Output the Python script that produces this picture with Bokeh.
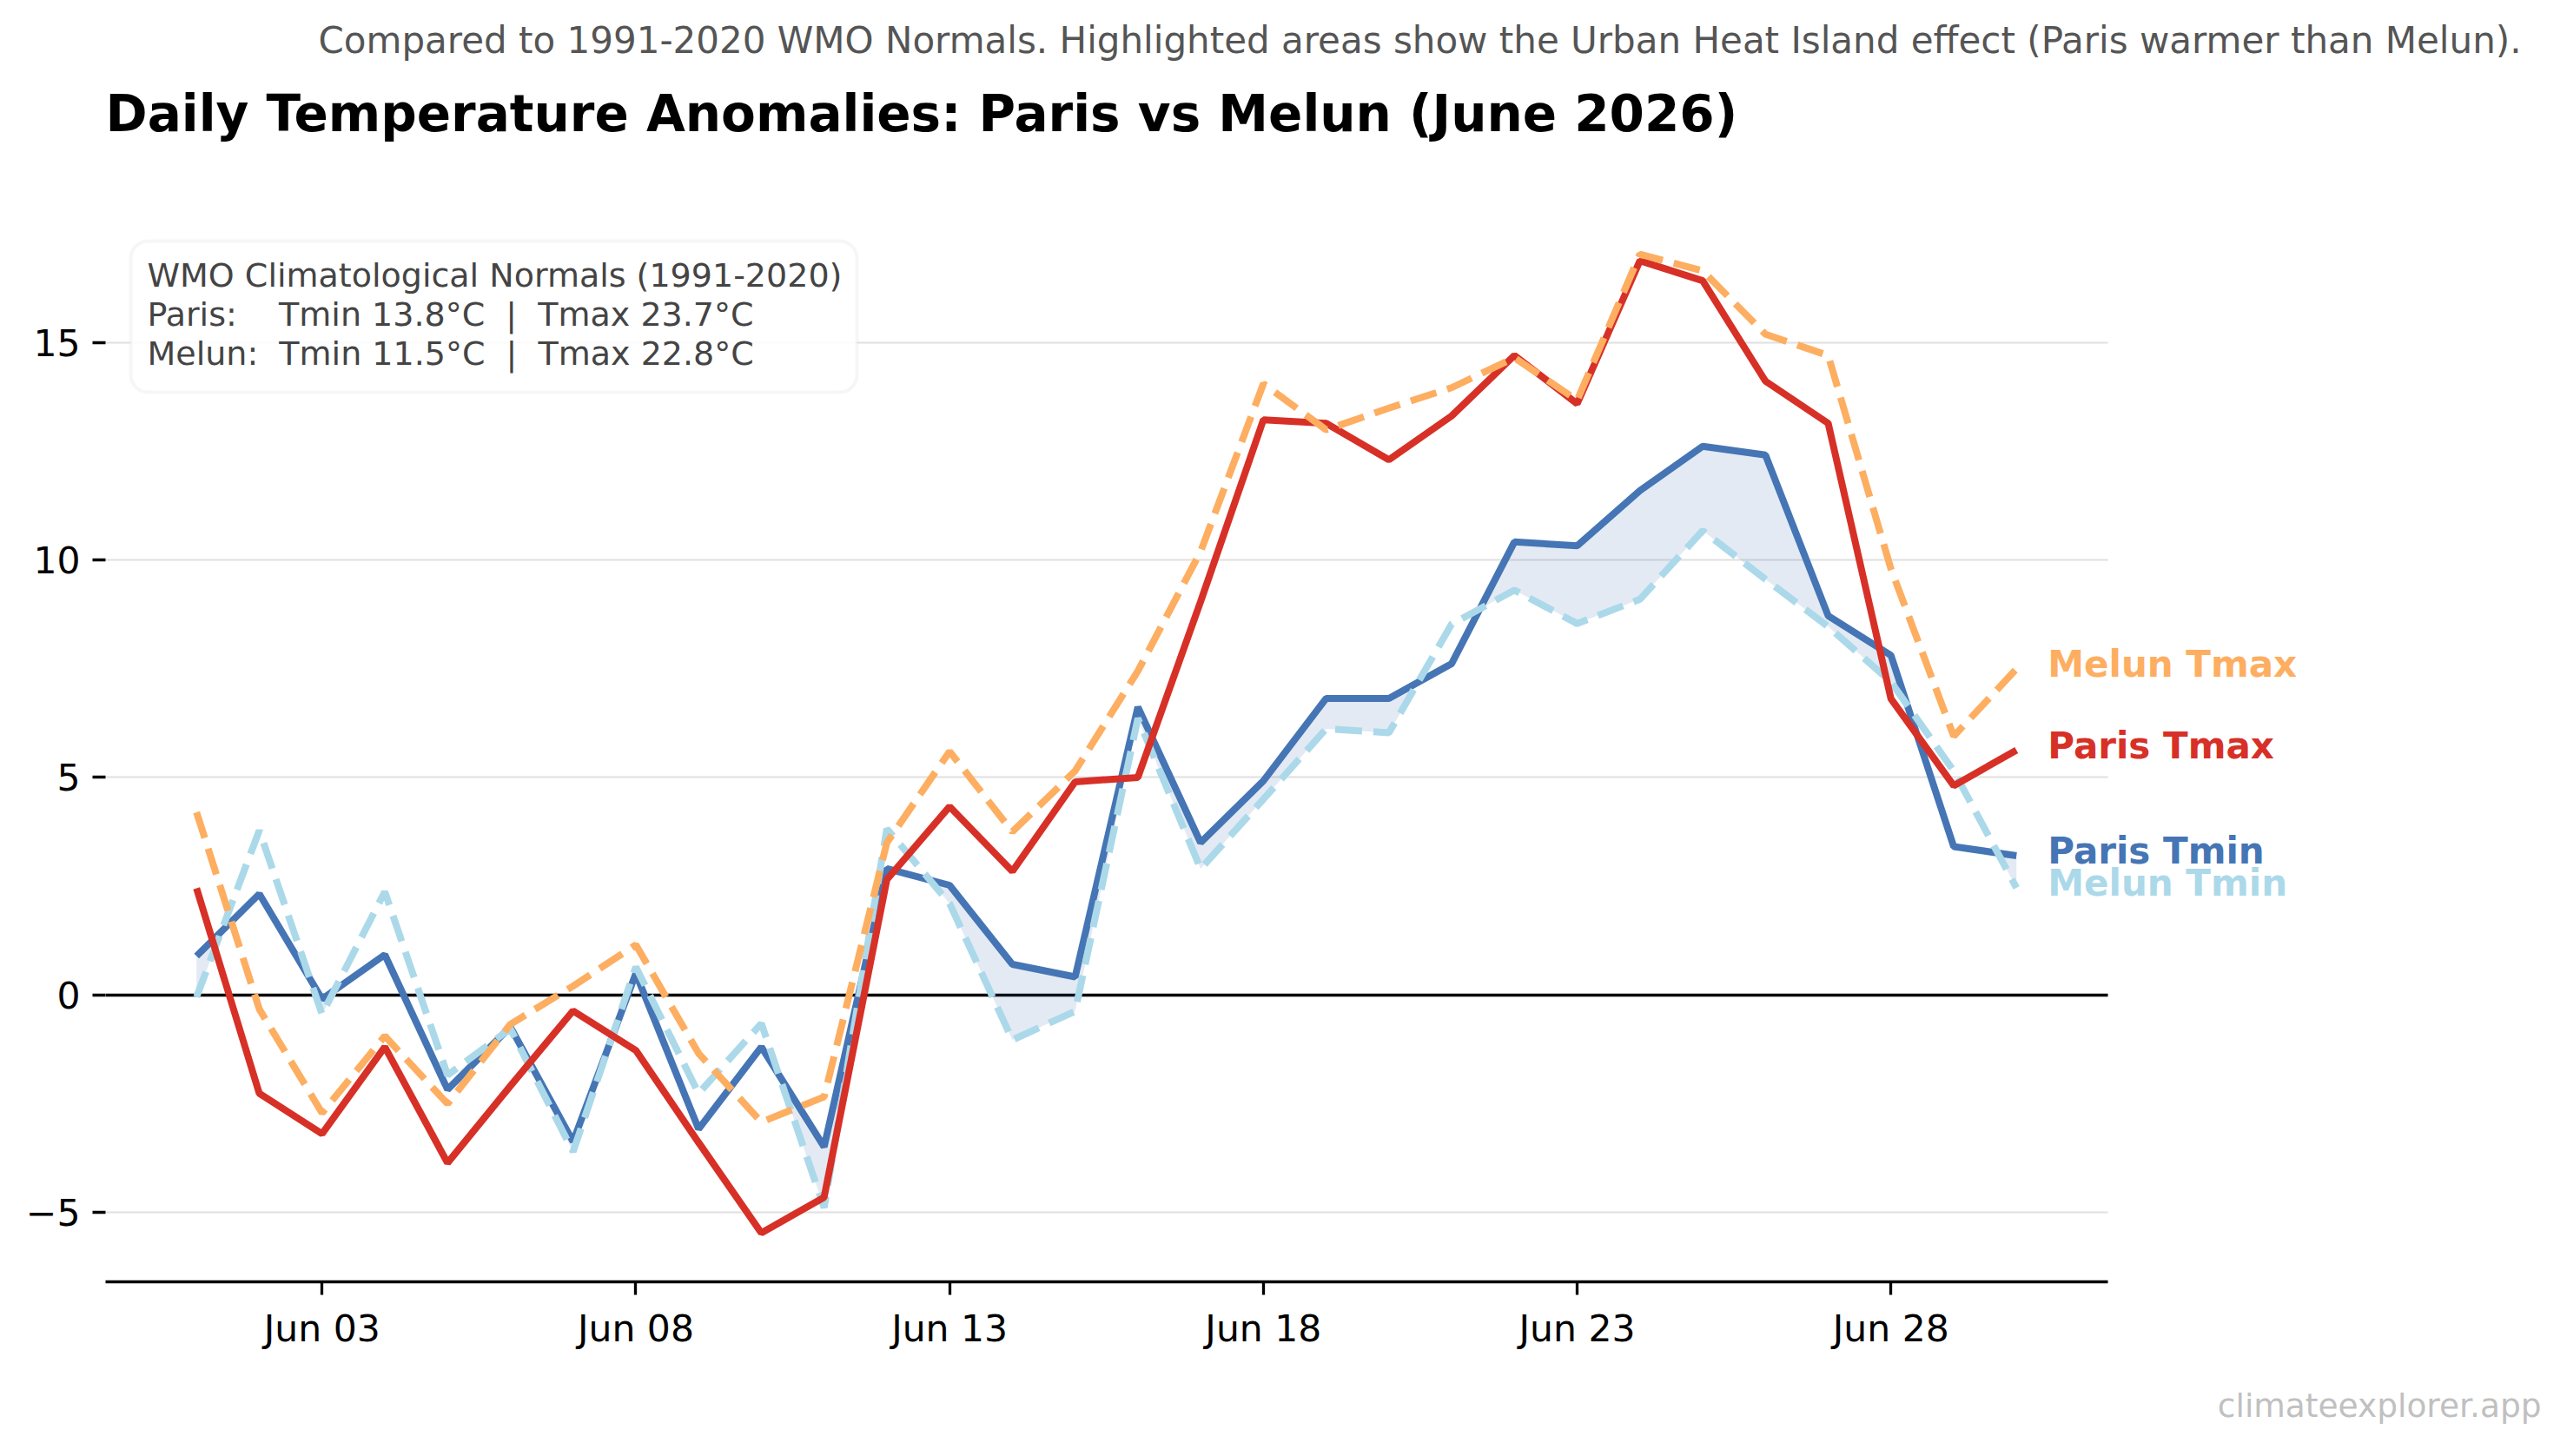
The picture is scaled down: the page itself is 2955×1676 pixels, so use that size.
import numpy as np
import pandas as pd
from bokeh.plotting import figure
from bokeh.models import (FixedTicker, DatetimeTickFormatter, Label, BoxAnnotation,
                          Grid, Range1d, Title)
from bokeh.embed import file_html
from bokeh.resources import INLINE

# Daily anomalies (°C) against 1991-2020 normals, June 2026
dates = pd.date_range("2026-06-01", "2026-06-30", freq="D")

paris_tmax = [2.45, -2.27, -3.2, -1.2, -3.87, -2.1, -0.37, -1.28, -3.4, -5.48,
              -4.66, 2.65, 4.33, 2.84, 4.9, 5.0, 9.05, 13.23, 13.15, 12.31,
              13.32, 14.71, 13.6, 16.89, 16.43, 14.12, 13.15, 6.81, 4.81, 5.63]
melun_tmax = [4.2, -0.33, -2.72, -0.95, -2.51, -0.68, 0.2, 1.15, -1.35, -2.93,
              -2.35, 3.5, 5.6, 3.75, 5.15, 7.45, 10.2, 14.06, 13.0, 13.5,
              13.97, 14.66, 13.68, 17.04, 16.66, 15.2, 14.71, 9.8, 5.95, 7.5]
paris_tmin = [0.89, 2.32, -0.1, 0.92, -2.18, -0.74, -3.38, 0.49, -3.09, -1.2,
              -3.5, 2.9, 2.52, 0.7, 0.41, 6.62, 3.5, 4.92, 6.82, 6.82,
              7.62, 10.42, 10.33, 11.6, 12.62, 12.42, 8.72, 7.81, 3.41, 3.2]
melun_tmin = [-0.05, 3.78, -0.45, 2.37, -1.85, -0.78, -3.61, 0.64, -2.27, -0.66,
              -4.9, 3.82, 2.1, -1.04, -0.38, 6.36, 2.9, 4.5, 6.12, 6.03,
              8.53, 9.31, 8.54, 9.1, 10.68, 9.56, 8.47, 7.2, 5.15, 2.46]

series_names = ["Paris Tmax", "Melun Tmax", "Paris Tmin", "Melun Tmin"]
tick_dates = ["2026-06-03", "2026-06-08", "2026-06-13", "2026-06-18",
              "2026-06-23", "2026-06-28"]
y_ticks = [-5, 0, 5, 10, 15]

normals_title = "WMO Climatological Normals (1991-2020)"
normals_paris = "Paris:\u00a0\u00a0\u00a0\u00a0Tmin 13.8°C\u00a0\u00a0|\u00a0\u00a0Tmax 23.7°C"
normals_melun = "Melun:\u00a0\u00a0Tmin 11.5°C\u00a0\u00a0|\u00a0\u00a0Tmax 22.8°C"

C_PTMAX = "#d73027"
C_MTMAX = "#fdae61"
C_PTMIN = "#4575b4"
C_MTMIN = "#abd9e9"
FONT = "DejaVu Sans"
TICK_FS = "42.5px"

W, H = 2955, 1676
# axes box (px): left, right, top, bottom
AX_L, AX_R, AX_T, AX_B = 121, 2425.5, 236, 1476

x_ms = np.array([d.value // 10**6 for d in dates], dtype=float)

# data limits with 5 % padding
all_vals = np.concatenate([paris_tmax, melun_tmax, paris_tmin, melun_tmin])
ypad = 0.05 * (all_vals.max() - all_vals.min())
xpad = 0.05 * (x_ms[-1] - x_ms[0])
x0, x1 = x_ms[0] - xpad, x_ms[-1] + xpad
y0, y1 = all_vals.min() - ypad, all_vals.max() + ypad

# the frame reaches the right and top edges so that side labels and headings
# are not clipped; axis line and grid stay within the data limits
frame_w = W - AX_L
frame_h = AX_B
x_end = x0 + (x1 - x0) * frame_w / (AX_R - AX_L)
y_end = y0 + (y1 - y0) * frame_h / (AX_B - AX_T)

p = figure(width=W, height=H, x_axis_type="datetime",
           output_backend="svg", toolbar_location=None,
           x_range=Range1d(x0, x_end), y_range=Range1d(y0, y_end),
           min_border_left=AX_L, min_border_right=0,
           min_border_top=0, min_border_bottom=H - AX_B)
p.outline_line_color = None
p.background_fill_color = "white"
p.border_fill_color = "white"

# grid
p.xgrid.grid_line_color = None
p.ygrid.ticker = FixedTicker(ticks=y_ticks)
p.ygrid.grid_line_color = "#e0e0e0"
p.ygrid.grid_line_width = 2
p.ygrid.cross_bounds = (x0, x1)

# axes
p.xaxis.ticker = FixedTicker(ticks=[pd.Timestamp(t).value // 10**6 for t in tick_dates])
fmt = "%b %d"
p.xaxis.formatter = DatetimeTickFormatter(days=fmt, months=fmt, hours=fmt,
                                          years=fmt, hourmin=fmt, minutes=fmt)
p.xaxis.bounds = (x0, x1)
p.xaxis.axis_line_color = "black"
p.xaxis.axis_line_width = 3.3
p.xaxis.major_tick_line_width = 3.3
p.xaxis.major_tick_out = 15
p.xaxis.major_tick_in = 0
p.xaxis.minor_tick_line_color = None
p.xaxis.major_label_text_font = FONT
p.xaxis.major_label_text_font_size = TICK_FS
p.xaxis.major_label_text_color = "black"
p.xaxis.major_label_standoff = 14

p.yaxis.ticker = FixedTicker(ticks=y_ticks)
p.yaxis.major_label_overrides = {-5: "\u22125"}
p.yaxis.axis_line_color = None
p.yaxis.major_tick_line_width = 3.3
p.yaxis.major_tick_out = 15
p.yaxis.major_tick_in = 0
p.yaxis.minor_tick_line_color = None
p.yaxis.major_label_text_font = FONT
p.yaxis.major_label_text_font_size = TICK_FS
p.yaxis.major_label_text_color = "black"
p.yaxis.major_label_standoff = 14

# zero reference line
p.add_layout(Grid(dimension=1, ticker=FixedTicker(ticks=[0]), cross_bounds=(x0, x1),
                  grid_line_color="black", grid_line_width=3.5))

# urban heat island shading: where Paris Tmin exceeds Melun Tmin
fx, fy1, fy2 = [], [], []
pt = np.array(paris_tmin)
mt = np.array(melun_tmin)
for i in range(len(x_ms)):
    fx.append(x_ms[i]); fy1.append(mt[i]); fy2.append(max(pt[i], mt[i]))
    if i < len(x_ms) - 1:
        d0 = pt[i] - mt[i]
        d1 = pt[i + 1] - mt[i + 1]
        if d0 * d1 < 0:
            t = d0 / (d0 - d1)
            xc = x_ms[i] + t * (x_ms[i + 1] - x_ms[i])
            yc = mt[i] + t * (mt[i + 1] - mt[i])
            fx.append(xc); fy1.append(yc); fy2.append(yc)
p.varea(x=fx, y1=fy1, y2=fy2, fill_color=C_PTMIN, fill_alpha=0.15)

# series lines
LW = 8
DASH = "31 13"
p.line(x_ms, paris_tmin, line_color=C_PTMIN, line_width=LW)
p.line(x_ms, melun_tmin, line_color=C_MTMIN, line_width=LW, line_dash=DASH)
p.line(x_ms, paris_tmax, line_color=C_PTMAX, line_width=LW)
p.line(x_ms, melun_tmax, line_color=C_MTMAX, line_width=LW, line_dash=DASH)

# end-of-line series labels
for name, vals, col in zip(series_names,
                           [paris_tmax, melun_tmax, paris_tmin, melun_tmin],
                           [C_PTMAX, C_MTMAX, C_PTMIN, C_MTMIN]):
    p.add_layout(Label(x=x_ms[-1], y=vals[-1], x_offset=36, y_offset=5, text=name,
                       text_color=col, text_font=FONT, text_font_size="42px",
                       text_font_style="bold", text_baseline="middle"))

# normals box (screen px measured from the frame's lower-left corner)
p.add_layout(BoxAnnotation(left=29, right=865, top=1198, bottom=1024,
                           left_units="screen", right_units="screen",
                           top_units="screen", bottom_units="screen",
                           fill_color="white", fill_alpha=0.85,
                           line_color="#e0e0e0", line_width=4,
                           border_radius=20, level="annotation"))
for txt, yy in [(normals_title, 1159), (normals_paris, 1114), (normals_melun, 1069)]:
    p.add_layout(Label(x=48, y=yy, x_units="screen", y_units="screen", text=txt,
                       text_color="#444444", text_font=FONT,
                       text_font_size="38px", text_baseline="middle"))

# headings
p.add_layout(Label(x=0, y=1345, x_units="screen", y_units="screen",
                   text="Daily Temperature Anomalies: Paris vs Melun (June 2026)",
                   text_font=FONT, text_font_size="58px", text_font_style="bold",
                   text_color="black", text_baseline="alphabetic"))
p.add_layout(Label(x=2781, y=1429, x_units="screen", y_units="screen",
                   text="Compared to 1991-2020 WMO Normals. Highlighted areas show the "
                        "Urban Heat Island effect (Paris warmer than Melun).",
                   text_font=FONT, text_font_size="42px", text_color="#555555",
                   text_align="right", text_baseline="alphabetic"))

# credit line
p.add_layout(Title(text="climateexplorer.app", align="right", offset=30,
                   standoff=74, text_font=FONT, text_font_size="37.5px",
                   text_font_style="normal", text_color="#c0c0c0"), "below")

open("out.html", "w").write(file_html(p, INLINE))
